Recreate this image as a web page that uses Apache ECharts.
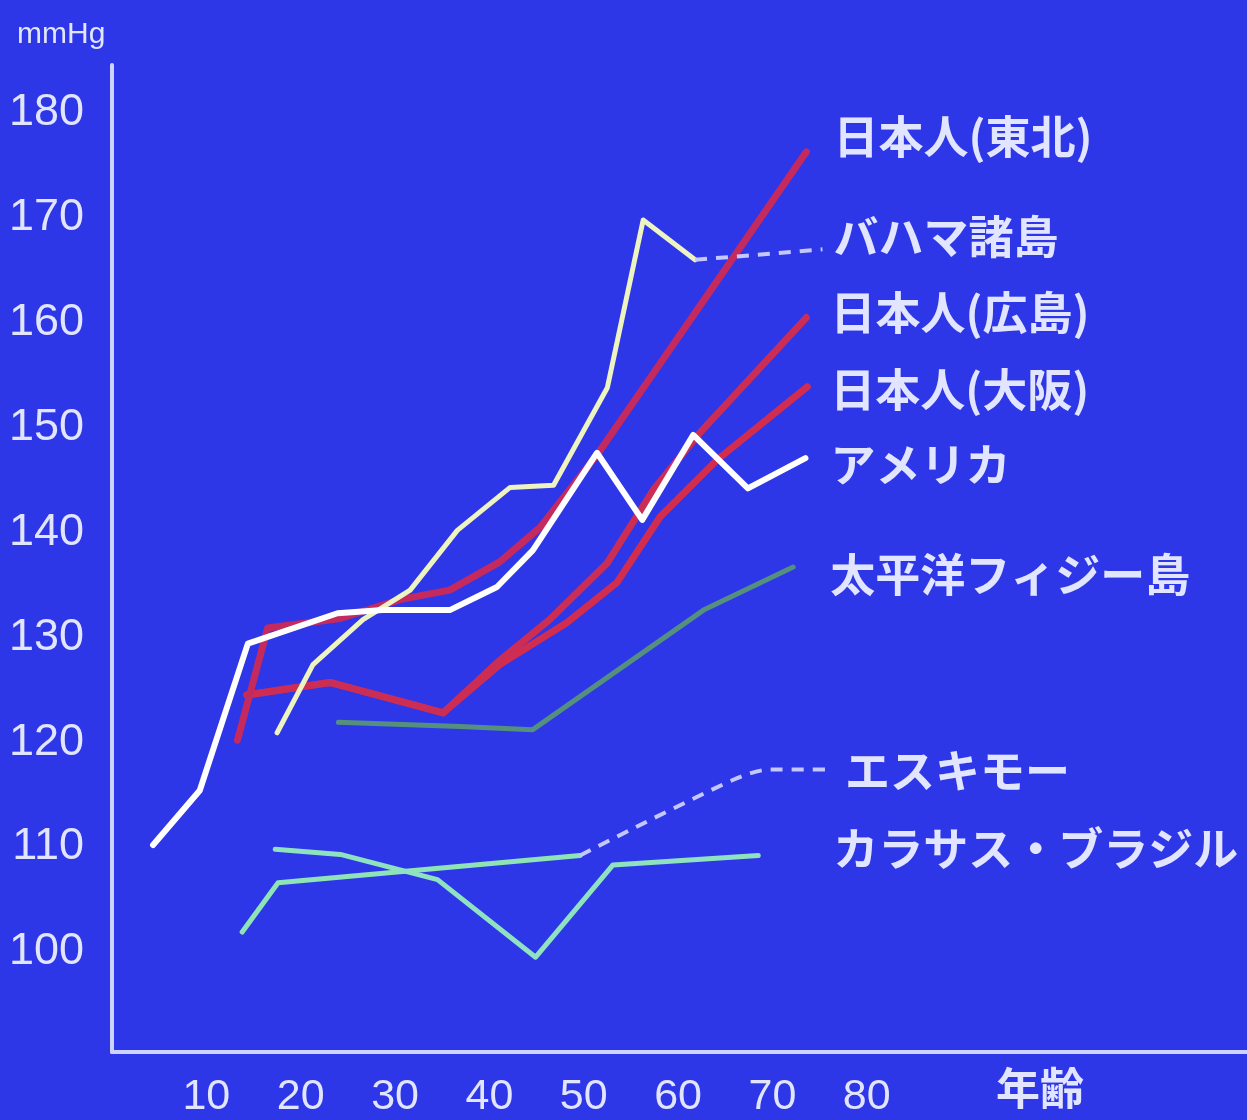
<!DOCTYPE html>
<html>
<head>
<meta charset="utf-8">
<script src="https://cdn.jsdelivr.net/npm/echarts@6/dist/echarts.min.js"></script>
<style>
  html, body { margin: 0; padding: 0; background: #2d37e8; }
  #chart { width: 1247px; height: 1120px; }
</style>
</head>
<body>
<div id="chart"></div>
<script>
// Tick labels
const ageTicks = [10, 20, 30, 40, 50, 60, 70, 80];
const bpTicks = [100, 110, 120, 130, 140, 150, 160, 170, 180];

// Systolic pressure (mmHg) by age, [age, value]
const tohoku = [[13.3, 120.2], [16.5, 130.9], [24.2, 131.8], [30.5, 133.6], [35.8, 134.5], [41.1, 137.2], [45.4, 140.5], [51.4, 147.4], [73.6, 176.3]];
const bahamas = [[17.5, 120.9], [21.3, 127.4], [26.6, 131.7], [31.6, 134.5], [36.6, 140.2], [42.2, 144.3], [46.8, 144.5], [52.5, 153.8], [56.3, 169.8], [61.8, 166.0]];
const bahamasLead = [[61.8, 166.0], [75.3, 167.0]];
const hiroshima = [[14.3, 124.5], [23.1, 125.7], [35.1, 122.8], [41.1, 127.8], [46.4, 131.7], [52.5, 137.1], [57.4, 144.1], [62.3, 149.5], [73.6, 160.5]];
const osaka = [[14.3, 124.5], [23.1, 125.7], [35.1, 122.8], [41.1, 127.4], [48.2, 131.4], [53.5, 135.2], [58.1, 141.5], [64.1, 146.9], [73.7, 153.9]];
const america = [[4.35, 110.2], [9.3, 115.4], [14.4, 129.4], [23.9, 132.3], [28.7, 132.6], [35.8, 132.6], [40.8, 134.8], [44.6, 138.3], [51.4, 147.6], [56.2, 141.2], [61.6, 149.3], [67.4, 144.2], [73.5, 147.1]];
const fiji = [[24.0, 121.9], [36.9, 121.5], [44.6, 121.2], [62.7, 132.6], [72.2, 136.7]];
const eskimo = [[13.8, 101.9], [17.6, 106.6], [49.6, 109.2]];
const eskimoLead = [[49.6, 109.2], [65.8, 116.4], [69.8, 117.4], [75.9, 117.4]];
const brazil = [[17.3, 109.8], [24.2, 109.3], [34.5, 106.9], [44.9, 99.5], [53.1, 108.3], [68.5, 109.2]];

const textColor = '#e2e5ff';
const numFont = '"Liberation Sans", Arial, sans-serif';
const jpFont = '"Noto Sans CJK JP", sans-serif';

function endName(text, dx, dy) {
  return {
    show: true,
    formatter: text,
    color: textColor,
    fontFamily: jpFont,
    fontWeight: 'bold',
    fontSize: 45,
    distance: 5,
    offset: [dx, dy]
  };
}

function line(name, data, color, width, label, extra) {
  return Object.assign({
    type: 'line',
    name: name,
    data: data,
    showSymbol: false,
    symbol: 'none',
    lineStyle: { color: color, width: width, cap: 'round', join: 'round' },
    endLabel: label || { show: false },
    labelLayout: { hideOverlap: false },
    silent: true
  }, extra || {});
}

const chart = echarts.init(document.getElementById('chart'), null, { renderer: 'canvas' });

chart.setOption({
  backgroundColor: '#2d37e8',
  animation: false,
  grid: { left: 112, right: 0, top: 65, bottom: 68, containLabel: false },
  xAxis: {
    type: 'value',
    min: 0,
    max: 120.3,
    splitLine: { show: false },
    axisLine: { show: true, lineStyle: { color: '#cdd2ff', width: 4 } },
    axisTick: { show: false },
    axisLabel: {
      customValues: ageTicks,
      color: textColor,
      fontFamily: numFont,
      fontSize: 43,
      margin: 24
    }
  },
  yAxis: {
    type: 'value',
    min: 90.46,
    max: 184.58,
    splitLine: { show: false },
    axisLine: { show: true, lineStyle: { color: '#cdd2ff', width: 4 } },
    axisTick: { show: false },
    axisLabel: {
      customValues: bpTicks,
      color: textColor,
      fontFamily: numFont,
      fontSize: 45,
      margin: 28
    }
  },
  graphic: [
    {
      type: 'text', left: 17, top: 20,
      style: { text: 'mmHg', fill: textColor, font: '30px ' + numFont }
    },
    {
      type: 'text', left: 996, top: 1066,
      style: { text: '年齢', fill: textColor, font: 'bold 44px ' + jpFont }
    }
  ],
  series: [
    line('太平洋フィジー島', fiji, '#55907f', 5, endName('太平洋フィジー島', 32, 8)),
    line('エスキモー', eskimo, '#8ee4b6', 5),
    line('エスキモー', eskimoLead, '#c4c8ff', 4, endName('エスキモー', 12, 1),
      { smooth: 0.3, lineStyle: { color: '#c4c8ff', width: 4, type: [12, 9] } }),
    line('カラサス・ブラジル', brazil, '#8fe2c0', 5, endName('カラサス・ブラジル', 70, -7)),
    line('日本人(大阪)', osaka, '#d22c4e', 7, endName('日本人(大阪)', 18, 3)),
    line('日本人(広島)', hiroshima, '#cc2d55', 7, endName('日本人(広島)', 19, -5)),
    line('日本人(東北)', tohoku, '#c42a5e', 7, endName('日本人(東北)', 22, -15)),
    line('バハマ諸島', bahamas, '#eef3c2', 5),
    line('バハマ諸島', bahamasLead, '#c4c8ff', 4, endName('バハマ諸島', 6, -12),
      { lineStyle: { color: '#c4c8ff', width: 4, type: [12, 9] } }),
    line('アメリカ', america, '#ffffff', 6, endName('アメリカ', 20, 7))
  ]
});
</script>
</body>
</html>
